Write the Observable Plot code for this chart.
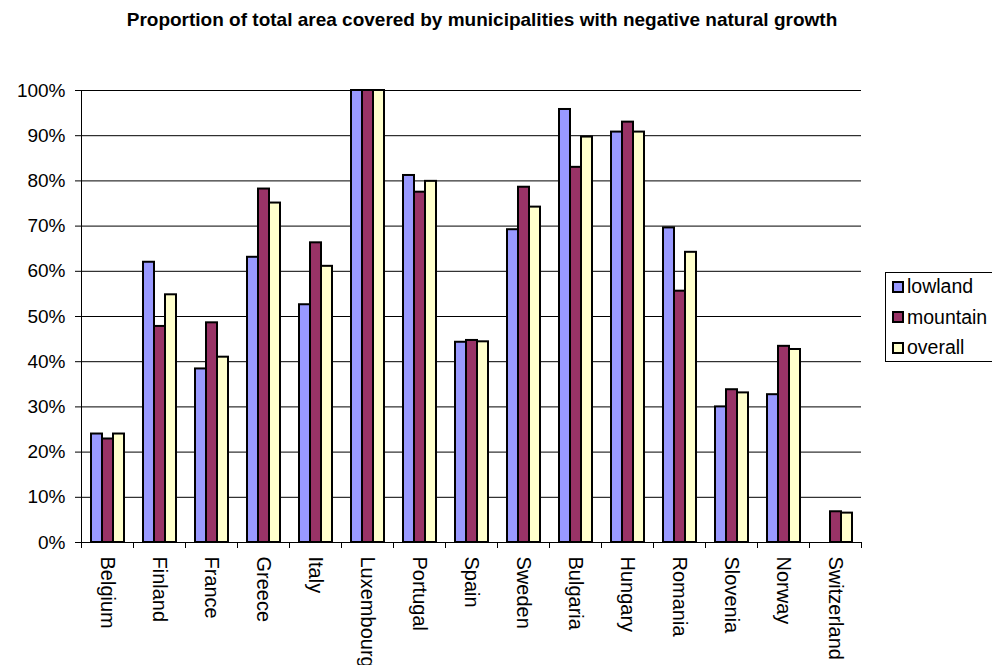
<!DOCTYPE html>
<html>
<head>
<meta charset="utf-8">
<script src="https://cdn.jsdelivr.net/npm/d3@7"></script>
<script src="https://cdn.jsdelivr.net/npm/@observablehq/plot@0.6"></script>
<style>
  html, body { margin: 0; padding: 0; background: #fff; overflow: hidden; }
  body { width: 992px; height: 665px; position: relative; font-family: Arial, "Liberation Sans", sans-serif; }
  #title { width: 964px; height: 40px; text-align: center; font-weight: bold; font-size: 19px; line-height: 40px; white-space: nowrap; }
  #chart svg { display: block; overflow: hidden; }
  #legend { position: absolute; left: 885px; top: 272px; width: 130px; height: 88px; border: 1px solid #000; background: #fff; font-size: 19.5px; }
  #legend .item { position: absolute; left: 6px; height: 20px; line-height: 20px; white-space: nowrap; }
  #legend .sw { display: inline-block; width: 8px; height: 8px; border: 2px solid #000; vertical-align: middle; margin-right: 3px; position: relative; top: -1px; }
</style>
</head>
<body>
<div id="title">Proportion of total area covered by municipalities with negative natural growth</div>
<div id="chart"></div>
<div id="legend"></div>
<script>
// Countries along the category axis
const countries = ["Belgium", "Finland", "France", "Greece", "Italy", "Luxembourg", "Portugal", "Spain",
  "Sweden", "Bulgaria", "Hungary", "Romania", "Slovenia", "Norway", "Switzerland"];

// Share of area (%) in municipalities with negative natural growth
const lowland  = [24.0, 62.0, 38.4, 63.1, 52.6, 100, 81.2, 44.3, 69.2, 95.8, 90.8, 69.6, 30.0, 32.7, null];
const mountain = [22.9, 47.8, 48.6, 78.2, 66.3, 100, 77.5, 44.7, 78.6, 83.0, 93.0, 55.6, 33.8, 43.4, 6.8];
const overall  = [24.0, 54.8, 41.0, 75.1, 61.1, 100, 79.9, 44.4, 74.2, 89.7, 90.8, 64.2, 33.1, 42.7, 6.5];

const seriesNames = ["lowland", "mountain", "overall"];
const seriesColors = ["#9999FF", "#993366", "#FFFFCC"];
const yTicks = [0, 10, 20, 30, 40, 50, 60, 70, 80, 90, 100];

// Long-format rows for the grouped bars
const seriesValues = [lowland, mountain, overall];
const rows = [];
countries.forEach((c, i) => {
  seriesNames.forEach((s, j) => {
    const v = seriesValues[j][i];
    if (v != null) rows.push({country: c, series: s, value: v});
  });
});

const marginLeft = 77, marginRight = 127, marginTop = 50, marginBottom = 123;

const plot = Plot.plot({
  width: 992,
  height: 625,
  marginTop, marginBottom, marginLeft, marginRight,
  style: {fontFamily: "Arial, 'Liberation Sans', sans-serif", fontSize: "19px", color: "#000", background: "#fff"},
  fx: {domain: countries, padding: 0, label: null},
  x: {domain: seriesNames, paddingInner: 0, paddingOuter: 0.75, axis: null},
  y: {domain: [0, 100], label: null},
  color: {domain: seriesNames, range: seriesColors},
  marks: [
    Plot.ruleY(yTicks.slice(1), {stroke: "#000", strokeWidth: 1}),
    Plot.barY(rows, {fx: "country", x: "series", y: "value", fill: "series", stroke: "#000", strokeWidth: 2}),
    Plot.ruleY([0], {stroke: "#000", strokeWidth: 1}),
    Plot.axisY({ticks: yTicks, tickFormat: d => d + "%", tickSize: 6, tickPadding: 10, fontSize: 19, label: null}),
    Plot.axisFx({anchor: "bottom", tickSize: 0, tickRotate: 90, tickPadding: 14, fontSize: 20, label: null})
  ]
});

// Value-axis line and category-boundary tick marks, placed with the plot's own scales
const fx = plot.scale("fx");
const y = plot.scale("y");
const svg = d3.select(plot);
const y0 = y.apply(0), y100 = y.apply(100);
const g = svg.append("g").attr("stroke", "#000").attr("stroke-width", 1).attr("shape-rendering", "crispEdges");
const left = fx.apply(countries[0]);
g.append("line").attr("x1", left).attr("x2", left).attr("y1", y100).attr("y2", y0);
const bounds = countries.map(c => fx.apply(c));
bounds.push(fx.apply(countries[countries.length - 1]) + fx.bandwidth);
bounds.forEach(b => g.append("line").attr("x1", b).attr("x2", b).attr("y1", y0).attr("y2", y0 + 6));

document.getElementById("chart").appendChild(plot);

// Legend box
const legend = document.getElementById("legend");
seriesNames.forEach((s, i) => {
  const item = document.createElement("div");
  item.className = "item";
  item.style.top = (3 + i * 30.5) + "px";
  const sw = document.createElement("span");
  sw.className = "sw";
  sw.style.background = seriesColors[i];
  item.appendChild(sw);
  item.appendChild(document.createTextNode(s));
  legend.appendChild(item);
});
</script>
</body>
</html>
